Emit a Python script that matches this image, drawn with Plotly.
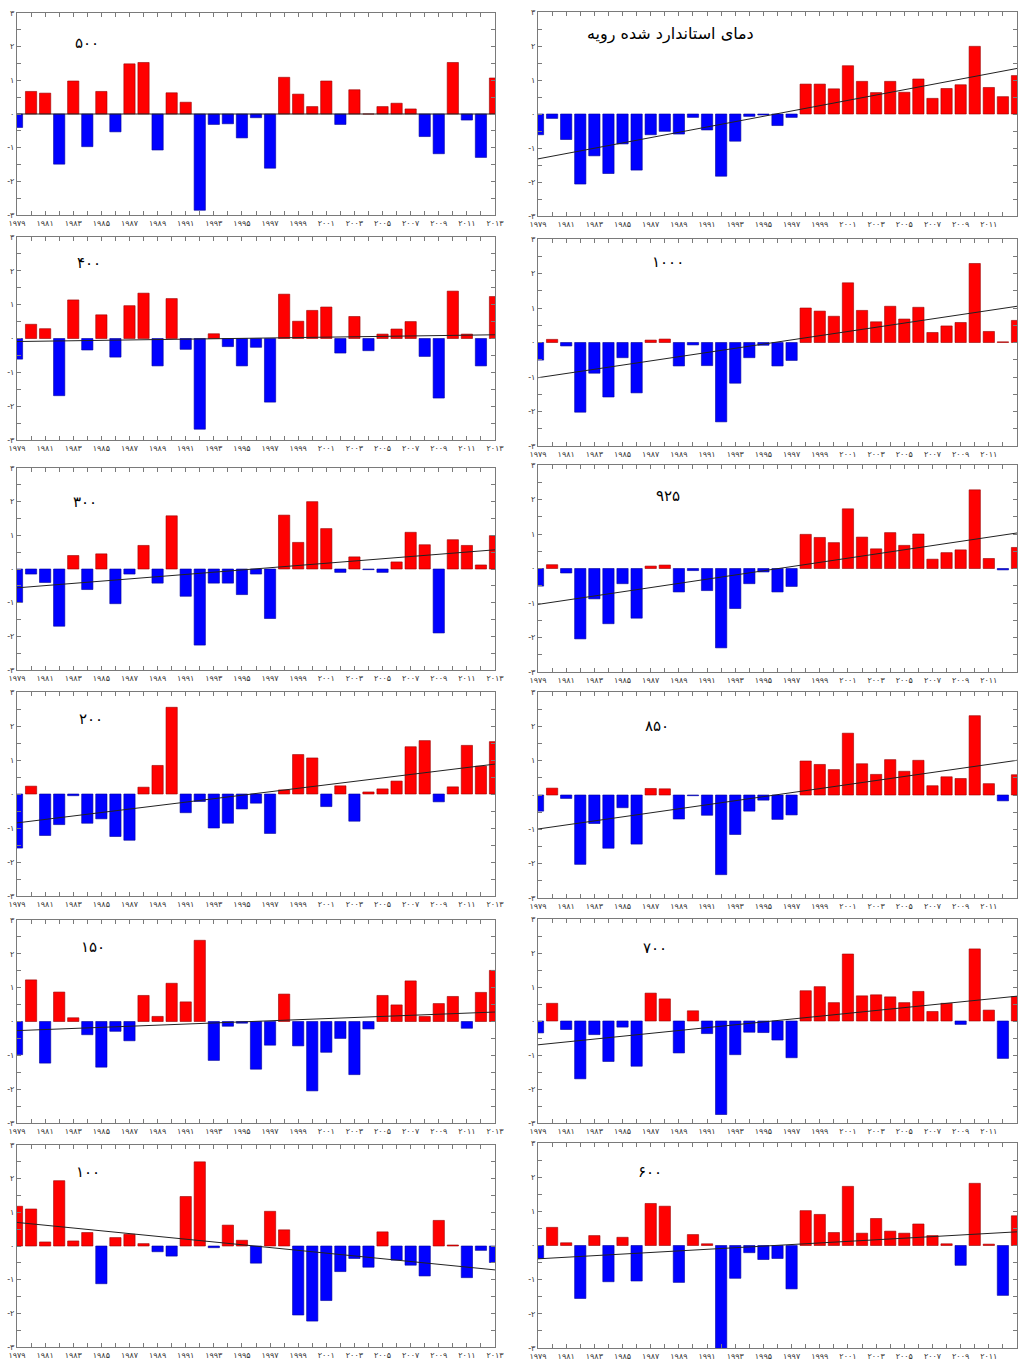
import plotly.graph_objects as go

W, H = 1018, 1360

years = list(range(1979, 2014))

x_tick_years = [1979, 1981, 1983, 1985, 1987, 1989, 1991, 1993, 1995, 1997,
                1999, 2001, 2003, 2005, 2007, 2009, 2011, 2013]
x_tick_labels = ["۱۹۷۹", "۱۹۸۱", "۱۹۸۳", "۱۹۸۵", "۱۹۸۷", "۱۹۸۹", "۱۹۹۱", "۱۹۹۳", "۱۹۹۵", "۱۹۹۷",
                 "۱۹۹۹", "۲۰۰۱", "۲۰۰۳", "۲۰۰۵", "۲۰۰۷", "۲۰۰۹", "۲۰۱۱", "۲۰۱۳"]
y_tick_vals = [-3, -2, -1, 0, 1, 2, 3]
y_tick_labels = ["-۳", "-۲", "-۱", "۰", "۱", "۲", "۳"]

# ---- standardized temperature anomalies, 1979-2013 ----
v500 = [-0.40, 0.67, 0.62, -1.49, 0.98, -0.97, 0.67, -0.53, 1.49, 1.53, -1.07, 0.63, 0.35, -2.86,
        -0.31, -0.29, -0.71, -0.11, -1.61, 1.09, 0.59, 0.22, 0.98, -0.31, 0.72, 0.0, 0.22, 0.32,
        0.15, -0.67, -1.18, 1.53, -0.18, -1.29, 1.07]
v400 = [-0.61, 0.42, 0.29, -1.69, 1.14, -0.34, 0.70, -0.55, 0.97, 1.34, -0.81, 1.18, -0.32, -2.68,
        0.14, -0.24, -0.81, -0.26, -1.88, 1.31, 0.51, 0.83, 0.93, -0.43, 0.65, -0.36, 0.13, 0.28,
        0.50, -0.53, -1.76, 1.40, 0.13, -0.81, 1.24]
v300 = [-0.99, -0.15, -0.40, -1.70, 0.40, -0.61, 0.45, -1.03, -0.15, 0.70, -0.42, 1.58, -0.81, -2.26,
        -0.42, -0.42, -0.76, -0.15, -1.47, 1.60, 0.79, 2.00, 1.20, -0.10, 0.36, -0.02, -0.10, 0.21,
        1.09, 0.72, -1.90, 0.87, 0.70, 0.12, 0.99]
v200 = [-1.59, 0.23, -1.22, -0.90, -0.05, -0.86, -0.73, -1.25, -1.36, 0.20, 0.84, 2.55, -0.55, -0.22,
        -1.00, -0.86, -0.44, -0.27, -1.16, 0.12, 1.16, 1.06, -0.37, 0.24, -0.80, 0.06, 0.15, 0.38,
        1.39, 1.57, -0.23, 0.21, 1.43, 0.82, 1.54]
v150 = [-0.98, 1.23, -1.23, 0.87, 0.11, -0.39, -1.35, -0.29, -0.57, 0.77, 0.15, 1.13, 0.58, 2.40,
        -1.15, -0.14, -0.05, -1.41, -0.70, 0.81, -0.72, -2.05, -0.91, -0.50, -1.57, -0.22, 0.77, 0.49,
        1.20, 0.15, 0.53, 0.74, -0.20, 0.86, 1.51]
v100 = [1.18, 1.10, 0.12, 1.94, 0.15, 0.40, -1.12, 0.25, 0.35, 0.07, -0.17, -0.30, 1.47, 2.50,
        -0.05, 0.62, 0.17, -0.51, 1.03, 0.48, -2.05, -2.23, -1.62, -0.76, -0.37, -0.63, 0.42, -0.42,
        -0.57, -0.89, 0.76, 0.03, -0.94, -0.13, -0.49]
v_surface = [-0.61, -0.13, -0.75, -2.06, -1.23, -1.75, -0.88, -1.65, -0.61, -0.51, -0.59, -0.10, -0.47, -1.83,
             -0.80, -0.07, -0.03, -0.34, -0.10, 0.88, 0.88, 0.74, 1.42, 0.96, 0.63, 0.96, 0.64, 1.03,
             0.46, 0.75, 0.86, 1.99, 0.78, 0.51, 1.13]
v1000 = [-0.51, 0.09, -0.10, -2.02, -0.89, -1.58, -0.44, -1.46, 0.07, 0.10, -0.68, -0.07, -0.67, -2.30,
         -1.18, -0.44, -0.08, -0.68, -0.52, 1.00, 0.91, 0.76, 1.73, 0.93, 0.60, 1.05, 0.68, 1.02,
         0.29, 0.48, 0.58, 2.29, 0.32, 0.02, 0.64]
v925 = [-0.51, 0.11, -0.13, -2.04, -0.88, -1.60, -0.44, -1.44, 0.07, 0.10, -0.68, -0.06, -0.64, -2.30,
        -1.16, -0.44, -0.10, -0.68, -0.52, 0.99, 0.90, 0.75, 1.73, 0.91, 0.57, 1.04, 0.67, 1.00,
        0.27, 0.46, 0.54, 2.28, 0.29, -0.04, 0.61]
v850 = [-0.47, 0.20, -0.10, -2.02, -0.83, -1.55, -0.37, -1.43, 0.19, 0.18, -0.70, -0.02, -0.59, -2.32,
        -1.15, -0.47, -0.15, -0.71, -0.58, 0.99, 0.89, 0.74, 1.80, 0.91, 0.60, 1.03, 0.69, 1.01,
        0.27, 0.53, 0.48, 2.31, 0.33, -0.17, 0.59]
v700 = [-0.35, 0.52, -0.25, -1.70, -0.40, -1.19, -0.18, -1.33, 0.82, 0.65, -0.94, 0.30, -0.37, -2.75,
        -0.99, -0.33, -0.34, -0.56, -1.08, 0.89, 1.01, 0.54, 1.97, 0.74, 0.77, 0.71, 0.54, 0.87,
        0.28, 0.52, -0.10, 2.12, 0.32, -1.10, 0.72]
v600 = [-0.38, 0.53, 0.08, -1.55, 0.29, -1.06, 0.24, -1.04, 1.23, 1.15, -1.08, 0.32, 0.05, -3.05,
        -0.96, -0.21, -0.41, -0.38, -1.27, 1.02, 0.91, 0.38, 1.73, 0.36, 0.79, 0.42, 0.36, 0.63,
        0.29, 0.05, -0.58, 1.82, 0.04, -1.46, 0.87]

# linear trend line end values (1979, 2013)
trend_500 = [0.0, 0.0]
trend_400 = [-0.09, 0.11]
trend_300 = [-0.56, 0.57]
trend_200 = [-0.85, 0.88]
trend_150 = [-0.27, 0.28]
trend_100 = [0.70, -0.71]
trend_surface = [-1.32, 1.34]
trend_1000 = [-1.02, 1.05]
trend_925 = [-1.04, 1.03]
trend_850 = [-0.99, 1.01]
trend_700 = [-0.70, 0.73]
trend_600 = [-0.39, 0.40]

labels = ["۵۰۰", "دمای استاندارد شده رویه", "۴۰۰", "۱۰۰۰", "۳۰۰", "۹۲۵",
          "۲۰۰", "۸۵۰", "۱۵۰", "۷۰۰", "۱۰۰", "۶۰۰"]
series = [v500, v_surface, v400, v1000, v300, v925, v200, v850, v150, v700, v100, v600]
trends = [trend_500, trend_surface, trend_400, trend_1000, trend_300, trend_925,
          trend_200, trend_850, trend_150, trend_700, trend_100, trend_600]

# layout geometry (pixels)
col_x = [(17, 495), (538, 1017)]
frames_y = [(13, 215), (12, 216), (237, 440), (239, 446), (468, 670), (465, 672),
            (692, 896), (692, 898), (920, 1123), (919, 1123), (1145, 1347), (1143, 1348)]
label_pos = [(87, 43), (670, 34), (89, 263), (668, 262), (85, 502), (668, 496),
             (91, 719), (657, 726), (93, 947), (655, 948), (88, 1172), (650, 1172)]

RED, BLUE = "#FF0000", "#0000FF"
FRAME = "#7a7a7a"
FONT = "DejaVu Sans"

fig = go.Figure()
layout = dict(width=W, height=H, autosize=False, margin=dict(l=0, r=0, t=0, b=0, pad=0),
              paper_bgcolor="white", plot_bgcolor="white", showlegend=False,
              bargap=0.2)
annotations = []

for i, (vals, tr, lab) in enumerate(zip(series, trends, labels)):
    k = i + 1
    col = i % 2
    xs = "x" if k == 1 else f"x{k}"
    ys = "y" if k == 1 else f"y{k}"
    colors = [RED if v >= 0 else BLUE for v in vals]
    lcols = ["#990000" if v >= 0 else "#000099" for v in vals]
    fig.add_trace(go.Bar(x=years, y=vals, width=0.8, marker=dict(color=colors, line=dict(color=lcols, width=0.6)),
                         xaxis=xs, yaxis=ys, hoverinfo="x+y"))
    fig.add_trace(go.Scatter(x=[years[0], years[-1]], y=tr, mode="lines",
                             line=dict(color="#222222", width=1), xaxis=xs, yaxis=ys, hoverinfo="skip"))
    x0, x1 = col_x[col]
    t, b = frames_y[i]
    xa = dict(domain=[x0 / W, x1 / W], range=[years[0], years[-1]], anchor=ys, automargin=False,
              tickmode="array", tickvals=x_tick_years, ticktext=x_tick_labels,
              ticks="inside", ticklen=4, tickcolor=FRAME, tickwidth=1,
              minor=dict(dtick=1, tick0=1979, ticks="inside", ticklen=4, tickcolor=FRAME),
              showline=True, linecolor=FRAME, linewidth=1, mirror="ticks",
              showgrid=False, zeroline=False,
              tickfont=dict(family=FONT, size=8, color="#333333"))
    ya = dict(domain=[1 - b / H, 1 - t / H], range=[-3, 3], anchor=xs, automargin=False,
              tickmode="array", tickvals=y_tick_vals, ticktext=y_tick_labels,
              ticks="inside", ticklen=4, tickcolor=FRAME, tickwidth=1,
              minor=dict(dtick=0.5, tick0=0, ticks="inside", ticklen=4, tickcolor=FRAME),
              showline=True, linecolor=FRAME, linewidth=1, mirror="ticks",
              showgrid=False, zeroline=False,
              tickfont=dict(family=FONT, size=8, color="#333333"))
    layout["xaxis" if k == 1 else f"xaxis{k}"] = xa
    layout["yaxis" if k == 1 else f"yaxis{k}"] = ya
    px, py = label_pos[i]
    annotations.append(dict(x=px / W, y=1 - py / H, xref="paper", yref="paper", text=lab,
                            showarrow=False, xanchor="center", yanchor="middle",
                            font=dict(family=FONT, size=16 if i == 1 else 15, color="black")))

layout["annotations"] = annotations
fig.update_layout(**layout)
fig.write_html("out.html", config={"displayModeBar": False},
               post_script="document.body.style.margin='0';document.documentElement.style.overflow='hidden';")
